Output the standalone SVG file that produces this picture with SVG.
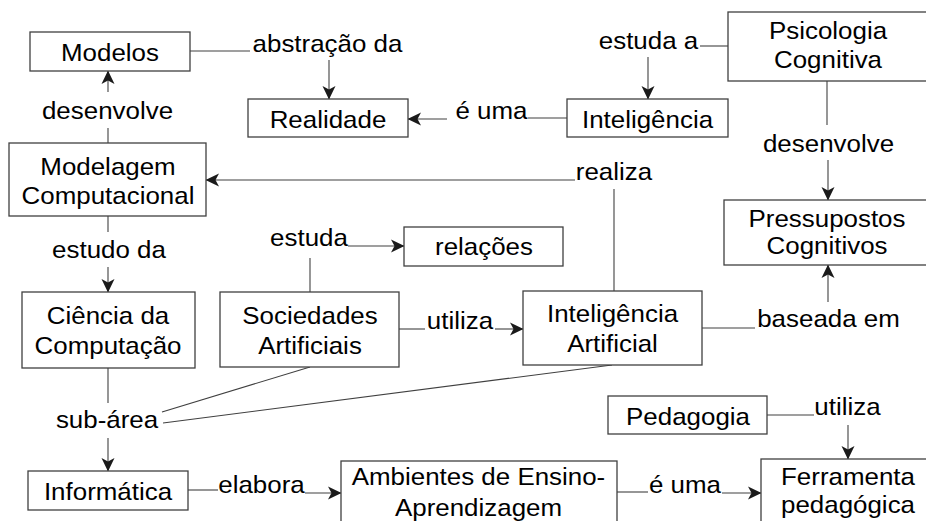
<svg xmlns="http://www.w3.org/2000/svg" width="926" height="521" viewBox="0 0 926 521">
<style>
rect{fill:#fff;stroke:#404040;stroke-width:1.3}
text{font-family:"Liberation Sans",Arial,sans-serif;font-size:24px;fill:#000;text-anchor:middle}
.c path{fill:none;stroke:#404040;stroke-width:1.1}
.a{marker-end:url(#ah)}
</style>
<defs>
<marker id="ah" markerUnits="userSpaceOnUse" viewBox="0 0 14 14" refX="13" refY="7" markerWidth="14" markerHeight="14" orient="auto">
<path d="M0,0.5 L13.5,7 L0,13.5 L3.5,7 z" fill="#1a1a1a"/>
</marker>
</defs>
<rect x="0" y="0" width="926" height="521" style="fill:#fff;stroke:none"/>
<g class="c" id="connectors">
<path d="M190,51 H250"/>
<path class="a" d="M329,60 V99"/>
<path d="M567,118 H528"/>
<path class="a" d="M447,119 H408"/>
<path d="M728,46 H700"/>
<path class="a" d="M648,57 V99"/>
<path d="M108,143 V128"/>
<path class="a" d="M108,92 V71"/>
<path d="M614,291 V189"/>
<path class="a" d="M575,180 H206"/>
<path d="M827,81 V125"/>
<path class="a" d="M828,160 V200"/>
<path d="M108,216 V232"/>
<path class="a" d="M108,267 V292"/>
<path d="M310,292 V258"/>
<path class="a" d="M348,246 H404"/>
<path d="M399,329 H425"/>
<path class="a" d="M495,329 H523"/>
<path d="M702,328 H755"/>
<path class="a" d="M828,302 V265"/>
<path d="M108,368 V403"/>
<path d="M310,367 L162,412"/>
<path d="M612,365 L163,423"/>
<path class="a" d="M108,438 V471"/>
<path d="M188,490 H218"/>
<path class="a" d="M305,493 H341"/>
<path d="M617,492 H648"/>
<path class="a" d="M722,493 H761"/>
<path d="M767,415 H814"/>
<path class="a" d="M848,425 V459"/>
</g>
<g id="labels">
<text transform="translate(327.5,52) scale(1.08,1)">abstração da</text>
<text transform="translate(648.5,49) scale(1.08,1)">estuda a</text>
<text transform="translate(491.5,119) scale(1.08,1)">é uma</text>
<text transform="translate(107.5,119) scale(1.08,1)">desenvolve</text>
<text transform="translate(614,180) scale(1.08,1)">realiza</text>
<text transform="translate(828.5,152) scale(1.08,1)">desenvolve</text>
<text transform="translate(109,258) scale(1.08,1)">estudo da</text>
<text transform="translate(309,246) scale(1.08,1)">estuda</text>
<text transform="translate(460,329) scale(1.08,1)">utiliza</text>
<text transform="translate(828.5,327) scale(1.08,1)">baseada em</text>
<text transform="translate(107,428) scale(1.08,1)">sub-área</text>
<text transform="translate(847.5,415) scale(1.08,1)">utiliza</text>
<text transform="translate(261.5,493) scale(1.08,1)">elabora</text>
<text transform="translate(685,493) scale(1.08,1)">é uma</text>
</g>
<g id="modelos"><rect x="30" y="32" width="160" height="39"/><text transform="translate(110,60.5) scale(1.08,1)">Modelos</text></g>
<g id="realidade"><rect x="248" y="99" width="160" height="38"/><text transform="translate(328,128) scale(1.08,1)">Realidade</text></g>
<g id="inteligencia"><rect x="567" y="99" width="161" height="38"/><text transform="translate(647.5,128) scale(1.08,1)">Inteligência</text></g>
<g id="psicologia"><rect x="728" y="12" width="210" height="69"/><text transform="translate(828,39) scale(1.08,1)">Psicologia</text><text transform="translate(828,68) scale(1.08,1)">Cognitiva</text></g>
<g id="modelagem"><rect x="9" y="143" width="197" height="73"/><text transform="translate(108,175) scale(1.08,1)">Modelagem</text><text transform="translate(108,204) scale(1.08,1)">Computacional</text></g>
<g id="pressupostos"><rect x="724" y="200" width="214" height="65"/><text transform="translate(827,227) scale(1.08,1)">Pressupostos</text><text transform="translate(827,254) scale(1.08,1)">Cognitivos</text></g>
<g id="relacoes"><rect x="404" y="227" width="159" height="39"/><text transform="translate(484,255) scale(1.08,1)">relações</text></g>
<g id="ciencia"><rect x="22" y="292" width="173" height="76"/><text transform="translate(108,324) scale(1.08,1)">Ciência da</text><text transform="translate(108,354) scale(1.08,1)">Computação</text></g>
<g id="sociedades"><rect x="220" y="292" width="179" height="75"/><text transform="translate(310,324) scale(1.08,1)">Sociedades</text><text transform="translate(310,354) scale(1.08,1)">Artificiais</text></g>
<g id="ia"><rect x="523" y="291" width="179" height="74"/><text transform="translate(612.5,322) scale(1.08,1)">Inteligência</text><text transform="translate(612.5,352) scale(1.08,1)">Artificial</text></g>
<g id="pedagogia"><rect x="608" y="396" width="159" height="38"/><text transform="translate(688,425) scale(1.08,1)">Pedagogia</text></g>
<g id="informatica"><rect x="28" y="471" width="160" height="39"/><text transform="translate(108,500) scale(1.08,1)">Informática</text></g>
<g id="ambientes"><rect x="341" y="461" width="276" height="80"/><text transform="translate(478.5,485) scale(1.08,1)">Ambientes de Ensino-</text><text transform="translate(478.5,516) scale(1.08,1)">Aprendizagem</text></g>
<g id="ferramenta"><rect x="761" y="459" width="180" height="80"/><text transform="translate(848,485) scale(1.08,1)">Ferramenta</text><text transform="translate(848,513) scale(1.08,1)">pedagógica</text></g>
</svg>
